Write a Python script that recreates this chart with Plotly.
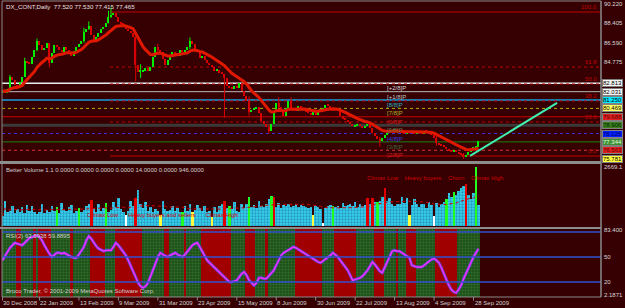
import plotly.graph_objects as go

# ---------------- data ----------------
CLOSE = [
    82.1, 81.9, 82.3, 83.4, 83.1, 82.7, 82.4, 82.9, 83.4, 84.9,
    84.8, 84.6, 85.3, 85.9, 86.8, 86.4, 85.9, 86.1, 86.6, 84.7,
    85.6, 86.4, 86.2, 85.9, 85.7, 86.2, 85.9, 85.7, 85.4, 85.8,
    86.2, 86.5, 86.8, 87.6, 87.9, 88.2, 87.3, 86.8, 87.1, 87.5,
    87.9, 88.1, 88.4, 89.0, 89.2, 89.4, 89.0, 88.5, 88.4, 88.2,
    87.9, 87.7, 87.5, 87.1, 84.5, 83.9, 83.9, 84.0, 84.2, 84.0,
    84.3, 85.3, 86.2, 85.9, 85.7, 85.1, 84.5, 85.0, 85.4, 85.7,
    85.6, 85.4, 85.9, 85.7, 85.9, 86.2, 86.8, 86.5, 86.0, 85.7,
    85.2, 85.4, 85.0, 84.7, 84.5, 84.3, 84.0, 84.1, 83.8, 83.7,
    83.3, 82.6, 82.4, 82.3, 82.6, 82.4, 82.8, 82.1, 81.6, 81.2,
    80.1, 80.3, 80.5, 80.6, 80.0, 79.3, 79.0, 78.7, 78.4, 79.0,
    80.2, 81.0, 80.6, 80.2, 79.8, 80.5, 81.2, 80.5, 80.4, 80.2,
    80.7, 80.5, 80.3, 80.2, 80.0, 79.9, 80.1, 79.9, 80.2, 80.4,
    80.5, 80.8, 80.7, 80.6, 80.5, 80.4, 80.2, 79.8, 79.5, 79.4,
    79.2, 79.0, 78.8, 78.9, 79.0, 78.8, 78.6, 78.8, 79.0, 78.6,
    78.2, 77.9, 77.6, 77.4, 77.7, 78.0, 78.2, 78.3, 78.4, 78.5,
    78.4, 78.3, 78.2, 78.1, 78.2, 78.3, 78.2, 78.1, 78.2, 78.3,
    78.1, 78.4, 78.3, 78.2, 78.0, 77.7, 77.2, 77.1, 77.0, 76.9,
    76.7, 76.5, 76.4, 76.5, 76.4, 76.3, 76.2, 75.9, 76.1, 76.4,
    76.7, 76.8, 76.9, 77.465,
]
FIRST_OPEN = 82.0
# notable wicks: bar index -> (high, low)
WICKS = {3: (83.6, 82.2), 9: (85.2, 83.4), 14: (87.0, 85.8), 19: (86.6, 84.3),
         33: (88.0, 86.6), 35: (88.6, 87.8), 43: (89.6, 88.4), 44: (89.9, 88.9),
         54: (87.3, 83.0), 56: (84.6, 83.3), 63: (86.5, 85.6), 76: (87.1, 86.0),
         90: (83.7, 79.6), 100: (81.6, 79.8), 108: (79.0, 78.1), 112: (81.5, 80.4),
         117: (81.5, 80.3), 153: (77.8, 76.9), 176: (77.9, 77.0), 187: (76.3, 75.75)}

VOLUME = [
    450, 1150, 620, 700, 900, 600, 750, 650, 880, 600,
    950, 700, 900, 650, 560, 620, 980, 600, 720, 640,
    900, 700, 850, 600, 1050, 750, 680, 880, 950, 600,
    700, 820, 650, 720, 900, 1000, 1170, 780, 650, 980,
    700, 820, 1030, 650, 720, 1100, 880, 1250, 760, 650,
    520, 700, 1150, 900, 1280, 1640, 1000, 800, 1100, 700,
    880, 650, 750, 700, 500, 1150, 780, 660, 720, 900,
    680, 800, 640, 650, 900, 700, 1000, 650, 720, 950,
    800, 700, 900, 650, 700, 420, 880, 650, 900, 1000,
    1150, 820, 900, 750, 1100, 700, 650, 1000, 800, 1000,
    1300, 850, 950, 800, 1150, 900, 850, 1000, 1200, 1350,
    1300, 850, 1050, 800, 950, 900, 1000, 850, 900, 1000,
    880, 950, 900, 850, 800, 850, 500, 900, 850, 750,
    130, 800, 900, 950, 900, 850, 900, 800, 1050, 900,
    950, 1000, 900, 1100, 850, 1000, 900, 950, 1250, 1000,
    1250, 1100, 1100, 1150, 1300, 1700, 1150, 1250, 1000, 900,
    1000, 1000, 1300, 1050, 1250, 500, 950, 1200, 1000, 850,
    1000, 1000, 800, 1100, 950, 450, 1050, 850, 1000, 1100,
    1200, 1500, 1300, 1550, 1400, 1600, 1700, 1800, 1900, 1400,
    1200, 1500, 2669.1, 946,
]
VOL_RED = [36, 54, 90, 110, 148, 150, 155, 188]
VOL_GREEN = [22, 31, 42, 73, 92, 100, 109, 134, 152, 180, 183, 192]
VOL_YELLOW = [64, 77, 85, 126, 165]
VOL_WHITE = [50, 130, 175]

RSI = [
    46, 51, 56, 61, 64, 67, 66, 65, 64, 67,
    70, 73, 74, 75, 76, 74, 70, 64, 58, 54,
    50, 52, 55, 55, 54, 55, 53, 51, 50, 49,
    49, 53, 58, 62, 70, 75, 72, 67, 63, 60,
    58, 57, 58, 58, 58, 62, 67, 64, 60, 56,
    52, 46, 40, 34, 26, 19, 15, 13, 15, 19,
    26, 34, 42, 50, 55, 53, 51, 50, 52, 54,
    55, 53, 51, 50, 53, 57, 61, 64, 66, 67,
    62, 56, 50, 46, 43, 40, 37, 34, 31, 28,
    25, 22, 20, 20, 21, 22, 26, 30, 32, 28,
    22, 19, 16, 19, 25, 25, 24, 24, 27, 31,
    34, 40, 46, 52, 55, 57, 58, 60, 62, 61,
    59, 57, 55, 53, 51, 49, 47, 45, 44, 43,
    45, 47, 49, 52, 55, 53, 50, 46, 42, 38,
    34, 28, 22, 23, 24, 25, 27, 30, 34, 39,
    44, 41, 37, 33, 31, 37, 43, 50, 57, 58,
    57, 57, 55, 52, 50, 49, 40, 39, 38, 38,
    38, 40, 43, 45, 47, 48, 46, 43, 37, 31,
    23, 16, 11, 8, 7, 11, 16, 24, 31, 37,
    44, 50, 55, 59.9,
]
RSI_GREEN_BANDS = [(0, 5), (8, 12), (14, 14), (20, 27), (29, 35), (42, 45), (57, 65),
                   (68, 73), (75, 80), (93, 98), (103, 106), (108, 118), (130, 134),
                   (144, 150), (155, 159), (161, 163), (168, 169), (170, 171),
                   (172, 175), (185, 193)]
RSI_LEVELS = [80, 50, 20]

TICK_IDX = [0, 15, 31, 47, 63, 79, 95, 111, 127, 143, 159, 175, 191]
TICK_TXT = ["30 Dec 2008", "22 Jan 2009", "13 Feb 2009", "9 Mar 2009", "31 Mar 2009",
            "23 Apr 2009", "15 May 2009", "8 Jun 2009", "30 Jun 2009", "22 Jul 2009",
            "13 Aug 2009", "4 Sep 2009", "28 Sep 2009"]

PRICE_TICKS = [90.220, 88.405, 86.590, 84.775]
MM_LEVELS = [82.813, 82.031, 81.250, 80.469, 79.688, 78.906, 78.125, 77.344, 76.563, 75.781]
MM_NAMES = ["[+2/8]P", "[+1/8]P", "[8/8]P", "[7/8]P", "[6/8]P", "[5/8]P", "[4/8]P",
            "[3/8]P", "[2/8]P", ""]
MM_COLORS = ["#e6eef0", "#b8b8b8", "#1c78a8", "#a8b400", "#c80000", "#3a3a3a",
             "#3a30e0", "#1e8010", "#e03030", None]
MM_TXTCOL = ["#d8d8d8", "#c0c0c0", "#20b0c0", "#b0b020", "#d02020", "#507050",
             "#3040e0", "#3a6a3a", "#d02020", None]
MM_DASH = ["solid", "solid", "solid", "dot", "solid", "solid", "dot", "solid", "dot", "solid"]
MM_WIDTH = [1.5, 1, 2, 1, 1, 3, 1, 1, 1, 1]
MM_BOX = ["#f4f4f4", "#f4f4f4", "#00e8ff", "#ffff60", "#e02020", "#3c8020",
          "#0020ff", "#3c9030", "#e02020", "#ffff40"]
MM_BOXTXT = ["#000000", "#000000", "#000000", "#000000", "#600000", "#002000",
             "#000060", "#e0ffe0", "#600000", "#000000"]

FIB_HIGH, FIB_LOW, FIB_START = 89.47, 76.03, 43.6
FIB_PCT = [100.0, 61.8, 50.0, 38.2, 23.6, 0.0]

PROJ_X = [189.6, 224.9]
PROJ_Y = [76.04, 80.98]

# ---------------- derived ----------------
N = len(CLOSE)
idx = list(range(N))
opens = [FIRST_OPEN] + CLOSE[:-1]

ma = []
k = 2 / (14 + 1)
for i, c in enumerate(CLOSE):
    ma.append(c if i == 0 else ma[-1] + k * (c - ma[-1]))

vol_avg = []
for i in range(N):
    w = VOLUME[max(0, i - 19):i + 1]
    vol_avg.append(sum(w) / len(w))

BG = "#360003"
GRID = "#8a8a8a"
FONT = "Liberation Sans"

P_RANGE = [75.56, 90.31]
V_RANGE = [0, 2805]
R_RANGE = [2.0, 83.6]
X_RANGE = [-0.2, 242.7]

fig = go.Figure()

# candles: wicks + thin bodies
up = [i for i in idx if CLOSE[i] >= opens[i]]
dn = [i for i in idx if CLOSE[i] < opens[i]]
for sel, col in ((up, "#00ee00"), (dn, "#d80000")):
    wx, wy = [], []
    for i in sel:
        if i in WICKS:
            hi, lo = WICKS[i]
            wx += [i, i, None]
            wy += [hi, lo, None]
    fig.add_trace(go.Scatter(x=wx, y=wy, mode="lines", line=dict(color=col, width=1),
                             xaxis="x", yaxis="y", showlegend=False, hoverinfo="skip"))
    fig.add_trace(go.Bar(
        x=sel, base=[min(opens[i], CLOSE[i]) for i in sel],
        y=[max(abs(CLOSE[i] - opens[i]), 0.08) for i in sel], width=0.55,
        marker=dict(color=col, line=dict(width=0)),
        xaxis="x", yaxis="y", showlegend=False, hoverinfo="skip"))
fig.add_trace(go.Scatter(x=idx, y=ma, mode="lines", line=dict(color="#e01800", width=3),
                         xaxis="x", yaxis="y", showlegend=False, hoverinfo="skip"))
fig.add_trace(go.Scatter(x=PROJ_X, y=PROJ_Y, mode="lines",
                         line=dict(color="#40f0b0", width=2),
                         xaxis="x", yaxis="y", showlegend=False, hoverinfo="skip"))

# volume
def vcolor(i):
    if i in VOL_RED:
        return "#e00000"
    if i in VOL_GREEN:
        return "#20ff20"
    if i in VOL_YELLOW:
        return "#ffff40"
    if i in VOL_WHITE:
        return "#ffffff"
    return None

cy_x = [i for i in idx if vcolor(i) is None]
sp_x = [i for i in idx if vcolor(i) is not None]
fig.add_trace(go.Bar(x=cy_x, y=[VOLUME[i] for i in cy_x], width=1,
                     marker=dict(color="#30c8e0", line=dict(width=0),
                                 pattern=dict(shape=".", fgcolor="#105a98", bgcolor="#38d4ec",
                                              size=3, solidity=0.45)),
                     xaxis="x", yaxis="y2", showlegend=False, hoverinfo="skip"))
fig.add_trace(go.Bar(x=sp_x, y=[VOLUME[i] for i in sp_x], width=1,
                     marker=dict(color=[vcolor(i) for i in sp_x], line=dict(width=0)),
                     xaxis="x", yaxis="y2", showlegend=False, hoverinfo="skip"))
fig.add_trace(go.Scatter(x=idx, y=vol_avg, mode="lines",
                         line=dict(color="#d00000", width=1, dash="dot"),
                         xaxis="x", yaxis="y2", showlegend=False, hoverinfo="skip"))

# RSI background bands
green_set = set()
for a, b in RSI_GREEN_BANDS:
    green_set.update(range(a, b + 1))
gx = [i for i in idx if i in green_set]
rx = [i for i in idx if i not in green_set]
fig.add_trace(go.Bar(x=rx, y=[R_RANGE[1] - R_RANGE[0]] * len(rx), base=R_RANGE[0], width=1,
                     marker=dict(color="#a00000", line=dict(width=0)),
                     xaxis="x", yaxis="y3", showlegend=False, hoverinfo="skip"))
fig.add_trace(go.Bar(x=gx, y=[R_RANGE[1] - R_RANGE[0]] * len(gx), base=R_RANGE[0], width=1,
                     marker=dict(color="#2a6224", line=dict(width=0),
                                 pattern=dict(shape=".", fgcolor="#4a8a3a", bgcolor="#1e501a",
                                              size=3, solidity=0.4)),
                     xaxis="x", yaxis="y3", showlegend=False, hoverinfo="skip"))
fig.add_trace(go.Scatter(x=idx, y=RSI, mode="lines", line=dict(color="#6040d0", width=3),
                         xaxis="x", yaxis="y3", showlegend=False, hoverinfo="skip"))
fig.add_trace(go.Scatter(x=idx, y=RSI, mode="lines", line=dict(color="#ff30ff", width=1.3),
                         xaxis="x", yaxis="y3", showlegend=False, hoverinfo="skip"))

shapes = []
annots = []

def hline(y, yref, color, width=1, dash="solid", layer="below"):
    shapes.append(dict(type="line", xref="paper", yref=yref, x0=0, x1=1,
                       y0=y, y1=y, line=dict(color=color, width=width, dash=dash), layer=layer))

for lv, col, dsh, wd in zip(MM_LEVELS, MM_COLORS, MM_DASH, MM_WIDTH):
    if col:
        hline(lv, "y", col, wd, dsh)
rng = FIB_HIGH - FIB_LOW
for p in FIB_PCT:
    lv = FIB_LOW + rng * p / 100
    solid = p in (100.0, 0.0)
    shapes.append(dict(type="line", xref="x", yref="y", x0=FIB_START, x1=X_RANGE[1], y0=lv, y1=lv,
                       line=dict(color="#c00000", width=1, dash="solid" if solid else "dot"),
                       layer="below"))
    annots.append(dict(x=1, xref="paper", xanchor="right", xshift=-2, y=lv, yref="y",
                       yanchor="bottom", text="%.1f" % p, showarrow=False,
                       font=dict(family=FONT, size=6, color="#c00000")))
for lv in RSI_LEVELS:
    hline(lv, "y3", "#3050d0", 1.3, layer="above")

def frac(py):
    return (297 - py) / 294

shapes.append(dict(type="rect", xref="paper", yref="paper", x0=-0.01, x1=1.0, y0=frac(164), y1=frac(161),
                   fillcolor="#8c8c8c", line=dict(width=0), layer="above"))
shapes.append(dict(type="rect", xref="paper", yref="paper", x0=-0.01, x1=1.0, y0=frac(229), y1=frac(227),
                   fillcolor="#8c8c8c", line=dict(width=0), layer="above"))
for (x0, x1, y0, y1, w) in ((0, 0, 0, frac(1), 1), (1, 1, 0, frac(1), 1.5),
                            (0, 1, frac(1), frac(1), 1), (0, 1, 0, 0, 1)):
    shapes.append(dict(type="line", xref="paper", yref="paper", x0=x0, x1=x1, y0=y0, y1=y1,
                       line=dict(color=GRID, width=w)))

for ti, tt in zip(TICK_IDX, TICK_TXT):
    shapes.append(dict(type="line", xref="x", yref="paper", x0=ti, x1=ti, y0=0, y1=-0.012,
                       line=dict(color=GRID, width=1)))
    annots.append(dict(x=ti, xref="x", y=0, yref="paper", xanchor="left", yanchor="top",
                       xshift=-1, yshift=-1, text=tt, showarrow=False,
                       font=dict(family=FONT, size=6, color="#d0d0d0")))

def rlabel(y, yref, text, bg=None, fc="#d8d8d8"):
    a = dict(x=1, xref="paper", xanchor="left", xshift=1, y=y, yref=yref, yanchor="middle",
             text=text, showarrow=False, font=dict(family=FONT, size=6, color=fc))
    if bg:
        a.update(bgcolor=bg, bordercolor="#808080", borderwidth=1, borderpad=0)
    annots.append(a)

for p in PRICE_TICKS:
    rlabel(p, "y", "%.3f" % p)
for lv, bg, tc in zip(MM_LEVELS, MM_BOX, MM_BOXTXT):
    rlabel(lv, "y", "%.3f" % lv, bg, tc)
rlabel(2669.1, "y2", "2669.1")
rlabel(R_RANGE[1] - 0.8, "y3", "83.400")
for lv in RSI_LEVELS[1:]:
    rlabel(lv, "y3", str(lv))
rlabel(R_RANGE[0] + 3, "y3", "2.1871")

for lv, nm, col in zip(MM_LEVELS, MM_NAMES, MM_TXTCOL):
    if nm:
        annots.append(dict(x=155, xref="x", xanchor="left", y=lv, yref="y", yanchor="top",
                           text=nm, showarrow=False, font=dict(family=FONT, size=6, color=col)))

def txt(px, py, s, size=6, color="#d0d0d0"):
    annots.append(dict(x=px / 599.0 - 2 / 599.0, xref="paper", xanchor="left", y=frac(py),
                       yref="paper", yanchor="middle", text=s, showarrow=False,
                       font=dict(family=FONT, size=size, color=color)))

txt(4, 6, "DX_CONT,Daily  77.520 77.530 77.415 77.465", 6.2, "#e0e0e0")
txt(4, 170, "Better Volume 1.1 0.0000 0.0000 0.0000 0.0000 14.0000 0.0000 946.0000")
txt(4, 236, "RSI(2) 63.5938 59.8895")
txt(4, 291, "Broco Trader, © 2001-2009 MetaQuotes Software Corp.")
txt(365, 178, "Climax Low    Heavy buyers    Churn    Climax High", 6, "#d00000")
txt(85, 215, "Climax Low      Heavy buyers and sellers      Climax High", 6, "#d00000")

ax_common = dict(showgrid=False, zeroline=False, showticklabels=False, showline=False, ticks="")
fig.update_layout(
    width=625, height=308,
    margin=dict(l=2, r=24, t=3, b=11),
    paper_bgcolor=BG, plot_bgcolor=BG,
    bargap=0, barmode="overlay",
    xaxis=dict(range=X_RANGE, anchor="y3", **ax_common),
    yaxis=dict(domain=[frac(161), 1], range=P_RANGE, **ax_common),
    yaxis2=dict(domain=[frac(226), frac(164)], range=V_RANGE, **ax_common),
    yaxis3=dict(domain=[0, frac(229)], range=R_RANGE, **ax_common),
    shapes=shapes, annotations=annots,
    showlegend=False,
)

fig.write_html("out.html")
